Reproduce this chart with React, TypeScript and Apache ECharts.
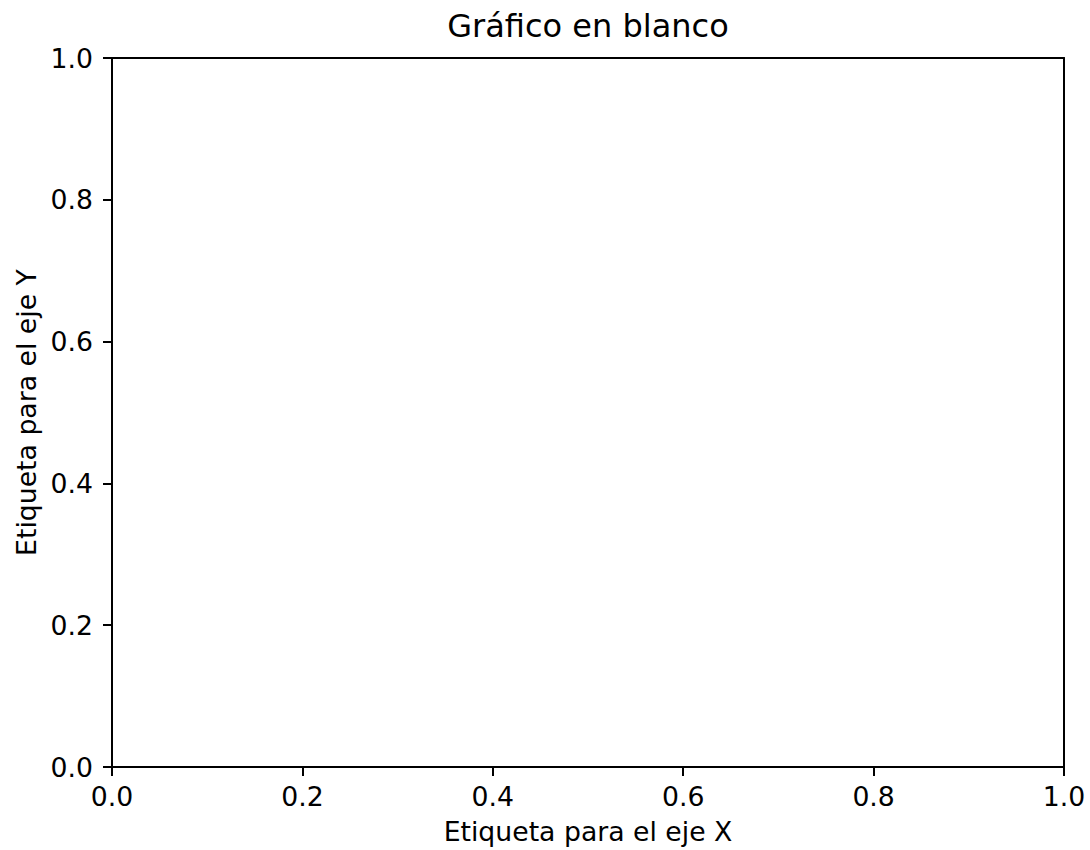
import React, { useEffect, useRef } from "react";
import * as echarts from "echarts";

const titleText = "Gráfico en blanco";
const xAxisName = "Etiqueta para el eje X";
const yAxisName = "Etiqueta para el eje Y";
const xRange = [0, 1];
const yRange = [0, 1];
const tickInterval = 0.2;
const seriesData: number[][] = [];

const FONT = "DejaVu Sans";
const LABEL_SIZE = 26.7;
const TITLE_SIZE = 32;

export default function App() {
  const ref = useRef<HTMLDivElement>(null);
  useEffect(() => {
    if (!ref.current) return;
    const chart = echarts.init(ref.current, undefined, { renderer: "svg" });
    const lineStyle = { color: "#000", width: 2 };
    const axisCommon = {
      axisLine: { show: true, onZero: false, lineStyle },
      axisTick: { show: true, length: 9, lineStyle: { color: "#000", width: 2 } },
      splitLine: { show: false },
    };
    const frameAxis = {
      axisLine: { show: true, onZero: false, lineStyle },
      axisTick: { show: false },
      axisLabel: { show: false },
      splitLine: { show: false },
    };
    chart.setOption({
      animation: false,
      backgroundColor: "#fff",
      graphic: [
        {
          type: "text",
          x: 588,
          y: 10,
          style: {
            text: titleText,
            textAlign: "center",
            textVerticalAlign: "top",
            fontFamily: FONT,
            fontSize: TITLE_SIZE,
            fill: "#000",
          },
        },
      ],
      grid: { left: 112, top: 58, right: 26, bottom: 82, containLabel: false },
      xAxis: [
        {
          type: "value",
          min: xRange[0],
          max: xRange[1],
          interval: tickInterval,
          position: "bottom",
          ...axisCommon,
          axisLabel: {
            margin: 16,
            fontFamily: FONT,
            fontSize: LABEL_SIZE,
            color: "#000",
            formatter: (v: number) => v.toFixed(1),
            showMinLabel: true,
            showMaxLabel: true,
          },
          name: xAxisName,
          nameLocation: "middle",
          nameGap: 51,
          nameTextStyle: { fontFamily: FONT, fontSize: LABEL_SIZE, color: "#000" },
        },
        {
          type: "value",
          min: xRange[0],
          max: xRange[1],
          position: "top",
          ...frameAxis,
        },
      ],
      yAxis: [
        {
          type: "value",
          min: yRange[0],
          max: yRange[1],
          interval: tickInterval,
          position: "left",
          ...axisCommon,
          axisLabel: {
            margin: 19,
            fontFamily: FONT,
            fontSize: LABEL_SIZE,
            color: "#000",
            formatter: (v: number) => v.toFixed(1),
            showMinLabel: true,
            showMaxLabel: true,
          },
          name: yAxisName,
          nameLocation: "middle",
          nameGap: 72,
          nameRotate: 90,
          nameTextStyle: { fontFamily: FONT, fontSize: LABEL_SIZE, color: "#000" },
        },
        {
          type: "value",
          min: yRange[0],
          max: yRange[1],
          position: "right",
          ...frameAxis,
        },
      ],
      series: [
        {
          type: "line",
          data: seriesData,
          xAxisIndex: 0,
          yAxisIndex: 0,
          showSymbol: false,
        },
      ],
    });
    return () => chart.dispose();
  }, []);
  return (
    <div
      ref={ref}
      style={{ position: "fixed", left: 0, top: 0, width: 1090, height: 850, background: "#fff" }}
    />
  );
}
